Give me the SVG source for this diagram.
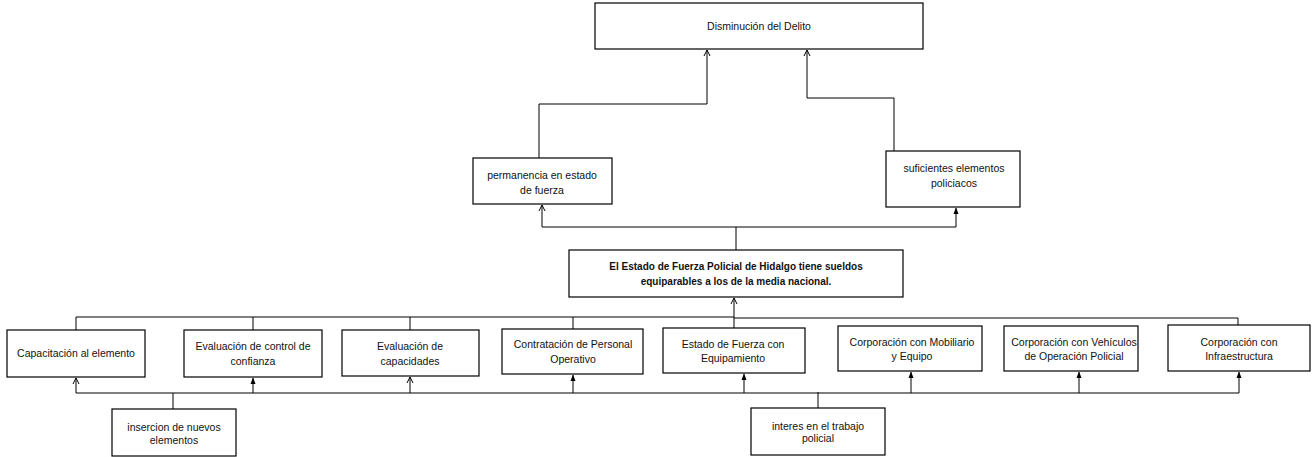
<svg xmlns="http://www.w3.org/2000/svg" width="1312" height="457" viewBox="0 0 1312 457">
<style>
.box{fill:#fff;stroke:#000;stroke-width:1.2}
.t{font-family:"Liberation Sans",Arial,sans-serif;font-size:10.5px;fill:#111;text-anchor:middle}
.b{font-weight:bold;font-size:10px}
.c{fill:none;stroke:#000;stroke-width:1}
.o{marker-end:url(#open)}
.f{marker-end:url(#fill)}
</style>
<defs>
<marker id="open" markerWidth="8" markerHeight="8" refX="7" refY="4" orient="auto" markerUnits="userSpaceOnUse" viewBox="0 0 8 8">
<path d="M1,1 L7,4 L1,7" fill="none" stroke="#000" stroke-width="1"/>
</marker>
<marker id="fill" markerWidth="7" markerHeight="6" refX="6" refY="3" orient="auto" markerUnits="userSpaceOnUse" viewBox="0 0 7 6">
<path d="M0,0.5 L6.5,3 L0,5.5 Z" fill="#000"/>
</marker>
</defs>
<rect width="1312" height="457" fill="#fff"/>
<g id="connectors">
<path class="c o" d="M539,158 V104 H707 V50"/>
<path class="c o" d="M894,151 V98 H807 V50"/>
<path class="c o" d="M736,250 V227 H542 V205"/>
<path class="c f" d="M736,227 H956 V208"/>
<path class="c o" d="M734,328 V298"/>
<path class="c" d="M76,330 V317 H734"/>
<path class="c" d="M734,318 H1238 V325"/>
<path class="c" d="M253,317 V330"/>
<path class="c" d="M410,317 V330"/>
<path class="c" d="M573,317 V329"/>
<path class="c" d="M76,393 H1239"/>
<path class="c" d="M173,409 V393"/>
<path class="c" d="M818,408 V392"/>
<path class="c o" d="M76,393 V378"/>
<path class="c f" d="M253,393 V378"/>
<path class="c o" d="M410,393 V377"/>
<path class="c f" d="M573,393 V375"/>
<path class="c f" d="M744,393 V374"/>
<path class="c f" d="M911,393 V372"/>
<path class="c f" d="M1079,393 V372"/>
<path class="c f" d="M1239,393 V372"/>
</g>
<g id="n-disminucion"><rect class="box" x="595" y="3" width="328" height="46"/><text class="t" x="759" y="30">Disminución del Delito</text></g>
<g id="n-permanencia"><rect class="box" x="473" y="158" width="139" height="46"/><text class="t" x="542" y="179">permanencia en estado</text><text class="t" x="542" y="194">de fuerza</text></g>
<g id="n-suficientes"><rect class="box" x="886" y="151" width="134" height="56"/><text class="t" x="954" y="172">suficientes elementos</text><text class="t" x="954" y="187">policiacos</text></g>
<g id="n-main"><rect class="box" x="569" y="250" width="334" height="47"/><text class="t b" x="736" y="270">El Estado de Fuerza Policial de Hidalgo tiene sueldos</text><text class="t b" x="736" y="285">equiparables a los de la media nacional.</text></g>
<g id="n-capacitacion"><rect class="box" x="7" y="330" width="138" height="47"/><text class="t" x="76" y="357">Capacitación al elemento</text></g>
<g id="n-control"><rect class="box" x="184" y="330" width="138" height="47"/><text class="t" x="253" y="350">Evaluación de control de</text><text class="t" x="253" y="365">confianza</text></g>
<g id="n-capacidades"><rect class="box" x="342" y="330" width="137" height="46"/><text class="t" x="410" y="350">Evaluación de</text><text class="t" x="410" y="365">capacidades</text></g>
<g id="n-contratacion"><rect class="box" x="502" y="329" width="141" height="45"/><text class="t" x="573" y="348">Contratación de Personal</text><text class="t" x="573" y="363">Operativo</text></g>
<g id="n-estado"><rect class="box" x="663" y="328" width="142" height="45"/><text class="t" x="733" y="348">Estado de Fuerza con</text><text class="t" x="733" y="362">Equipamiento</text></g>
<g id="n-mobiliario"><rect class="box" x="838" y="326" width="144" height="45"/><text class="t" x="912" y="346">Corporación con Mobiliario</text><text class="t" x="912" y="360">y Equipo</text></g>
<g id="n-vehiculos"><rect class="box" x="1004" y="326" width="134" height="45"/><text class="t" x="1074" y="346">Corporación con Vehículos</text><text class="t" x="1074" y="360">de Operación Policial</text></g>
<g id="n-infraestructura"><rect class="box" x="1168" y="325" width="142" height="46"/><text class="t" x="1239" y="346">Corporación con</text><text class="t" x="1239" y="360">Infraestructura</text></g>
<g id="n-insercion"><rect class="box" x="112" y="409" width="124" height="47"/><text class="t" x="174" y="431">insercion de nuevos</text><text class="t" x="174" y="444">elementos</text></g>
<g id="n-interes"><rect class="box" x="751" y="408" width="134" height="47"/><text class="t" x="818" y="430">interes en el trabajo</text><text class="t" x="818" y="442">policial</text></g>
</svg>
